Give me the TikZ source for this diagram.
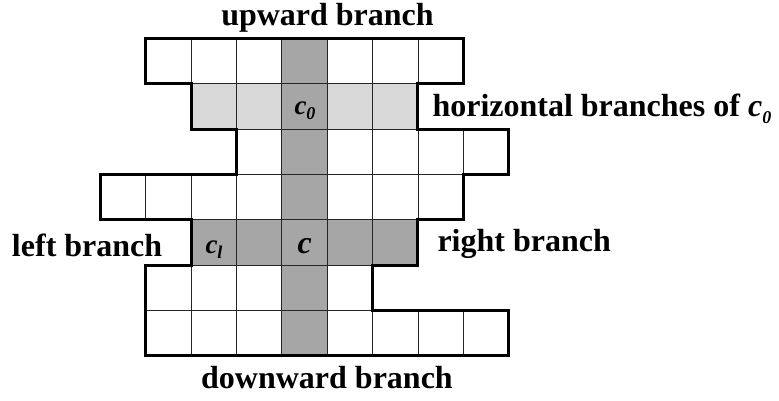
\documentclass[tikz,border=0pt]{standalone}
\usepackage{fontspec}
\setmainfont{Liberation Serif}
\definecolor{darkg}{RGB}{166,166,166}
\definecolor{lightg}{RGB}{217,217,217}
\tikzset{
  gridline/.style={draw=black!85,line width=0.9pt},
  outline/.style={draw=black,line width=3pt,line join=miter},
  lbl/.style={inner sep=0pt,outer sep=0pt,font=\fontsize{32}{36}\selectfont\bfseries},
  clbl/.style={inner sep=0pt,outer sep=0pt,font=\fontsize{27}{30}\selectfont\bfseries\itshape},
}
\newcommand{\subz}[1]{\raisebox{-0.22em}{\fontsize{18}{20}\selectfont #1}}
\begin{document}
\begin{tikzpicture}[x=1pt,y=-1pt]
\useasboundingbox (0,0) rectangle (779,400);
\begin{scope}[shift={(100.5,38.3)},x=45.35pt,y=-45.35pt]
  \fill[white] (1,0) -- (8,0) -- (8,1) -- (7,1) -- (7,2) -- (9,2) -- (9,3) -- (8,3) -- (8,4) -- (7,4) -- (7,5) -- (6,5) -- (6,6) -- (9,6) -- (9,7) -- (1,7) -- (1,5) -- (2,5) -- (2,4) -- (0,4) -- (0,3) -- (3,3) -- (3,2) -- (2,2) -- (2,1) -- (1,1) -- cycle;
  \fill[lightg] (2,1) rectangle (7,2);
  \fill[darkg] (2,4) rectangle (7,5);
  \fill[darkg] (4,0) rectangle (5,7);
  \foreach \r/\a/\b in {0/1/7,1/2/6,2/3/8,3/0/7,4/2/6,5/1/5,6/1/8} {
    \foreach \c in {\a,...,\b} {
      \draw[gridline] (\c,\r) rectangle ++(1,1);
    }
  }
  \draw[outline] (1,0) -- (8,0) -- (8,1) -- (7,1) -- (7,2) -- (9,2) -- (9,3) -- (8,3) -- (8,4) -- (7,4) -- (7,5) -- (6,5) -- (6,6) -- (9,6) -- (9,7) -- (1,7) -- (1,5) -- (2,5) -- (2,4) -- (0,4) -- (0,3) -- (3,3) -- (3,2) -- (2,2) -- (2,1) -- (1,1) -- cycle;
\end{scope}
\node[lbl,anchor=base] (up) at (327.5,25) {upward branch};
\node[lbl,anchor=base] (down) at (327,388) {downward branch};
\node[lbl,anchor=base west] (left) at (12,256.5) {left branch};
\node[lbl,anchor=base west] (right) at (437.5,251.5) {right branch};
\node[lbl,anchor=base west] (horiz) at (432.5,116.5) {horizontal branches of \textit{c}\subz{\textit{0}}};
\node[clbl,anchor=base] (c0) at (305,114) {c\subz{0}};
\node[clbl,anchor=base,font=\fontsize{32}{36}\selectfont\bfseries\itshape] (c) at (304.6,253) {c};
\node[clbl,anchor=base] (cl) at (214,253) {c\subz{l}};
\end{tikzpicture}
\end{document}
